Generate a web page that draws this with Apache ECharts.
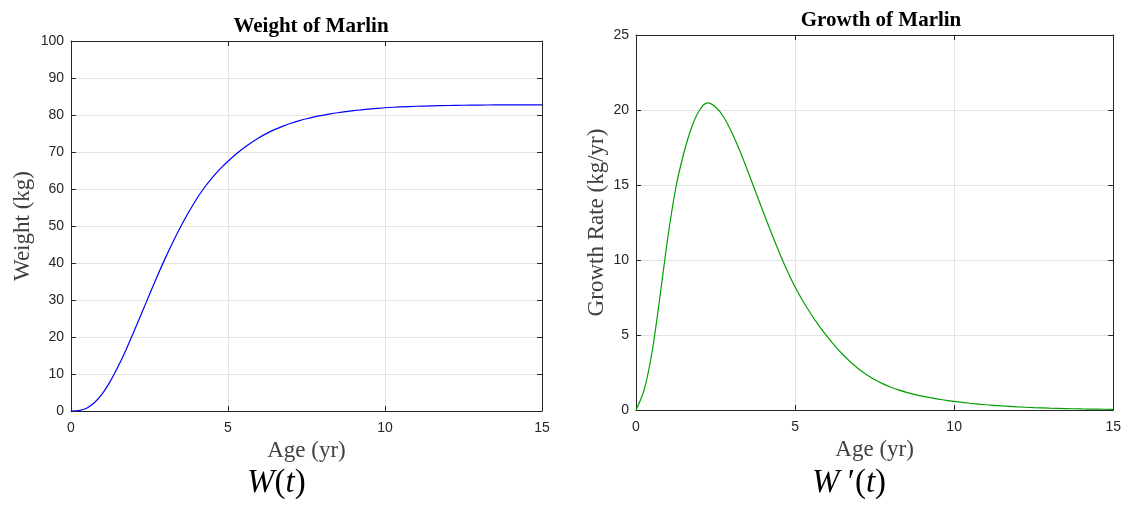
<!DOCTYPE html>
<html>
<head>
<meta charset="utf-8">
<script src="https://cdn.jsdelivr.net/npm/echarts@6/dist/echarts.min.js"></script>
<style>
html,body{margin:0;padding:0;background:#fff;}
#c{width:1124px;height:506px;}
</style>
</head>
<body>
<div id="c"></div>
<script>
// Age samples (yr), shared by both panels
const age = [0, 0.25, 0.5, 0.75, 1.0, 1.25, 1.5, 1.75, 2.0, 2.25, 2.5, 2.75, 3.0, 3.25, 3.5, 3.75, 4.0, 4.25, 4.5, 4.75,
             5.0, 5.25, 5.5, 5.75, 6.0, 6.25, 6.5, 6.75, 7.0, 7.25, 7.5, 7.75, 8.0, 8.25, 8.5, 8.75, 9.0, 9.25, 9.5, 9.75,
             10, 10.5, 11, 11.5, 12, 12.5, 13, 13.5, 14, 14.5, 15];
// Weight of Marlin W(t), kg
const weight = [0, 0.12, 0.75, 2.3, 4.7, 8.0, 12.0, 16.5, 21.4, 26.4, 31.5, 36.5, 41.25, 45.75, 49.95, 53.8, 57.3, 60.4, 63.1, 65.45,
                67.5, 69.4, 71.1, 72.6, 73.94, 75.1, 76.12, 77.0, 77.76, 78.42, 78.99, 79.48, 79.9, 80.28, 80.61, 80.9, 81.16, 81.39, 81.6, 81.79,
                81.96, 82.2, 82.36, 82.48, 82.57, 82.63, 82.68, 82.71, 82.73, 82.745, 82.75];
// Growth of Marlin W'(t), kg/yr
const growth = [0, 1.3, 3.8, 7.5, 11.5, 14.8, 17.1, 18.85, 20.0, 20.47, 20.2, 19.55, 18.55, 17.35, 16.0, 14.6, 13.2, 11.83, 10.52, 9.3,
                8.2, 7.25, 6.4, 5.62, 4.92, 4.28, 3.7, 3.18, 2.73, 2.35, 2.03, 1.76, 1.53, 1.34, 1.18, 1.04, 0.92, 0.82, 0.73, 0.64,
                0.57, 0.45, 0.35, 0.27, 0.21, 0.16, 0.12, 0.095, 0.07, 0.055, 0.04];

const titles = ['Weight of Marlin', 'Growth of Marlin'];
const xNames = ['Age (yr)', 'Age (yr)'];
const yNames = ['Weight (kg)', 'Growth Rate (kg/yr)'];

const axisColor = '#262626';
const gridColor = '#e3e3e3';
const labelFont = {color: '#262626', fontSize: 14, fontFamily: 'Liberation Sans, Arial, sans-serif'};
const nameFont = {color: '#404040', fontSize: 23, fontFamily: 'Liberation Serif, Times New Roman, serif'};

function mainX(gi, name) {
  return {
    type: 'value', gridIndex: gi, min: 0, max: 15, interval: 5, position: 'bottom',
    name: name, nameLocation: 'middle', nameGap: 27, nameTextStyle: nameFont,
    axisLine: {show: true, onZero: false, lineStyle: {color: axisColor, width: 1}},
    axisTick: {show: true, inside: true, length: 5, lineStyle: {color: axisColor}},
    axisLabel: Object.assign({margin: 10}, labelFont),
    splitLine: {show: true, lineStyle: {color: gridColor, width: 1}}
  };
}
function topX(gi) {
  return {
    type: 'value', gridIndex: gi, min: 0, max: 15, interval: 5, position: 'top',
    axisLine: {show: true, onZero: false, lineStyle: {color: axisColor, width: 1}},
    axisTick: {show: true, inside: true, length: 5, lineStyle: {color: axisColor}},
    axisLabel: {show: false}, splitLine: {show: false}
  };
}
function mainY(gi, max, interval, name, gap) {
  return {
    type: 'value', gridIndex: gi, min: 0, max: max, interval: interval, position: 'left',
    name: name, nameLocation: 'middle', nameGap: gap, nameTextStyle: nameFont,
    axisLine: {show: true, onZero: false, lineStyle: {color: axisColor, width: 1}},
    axisTick: {show: true, inside: true, length: 5, lineStyle: {color: axisColor}},
    axisLabel: Object.assign({margin: 7}, labelFont),
    splitLine: {show: true, lineStyle: {color: gridColor, width: 1}}
  };
}
function rightY(gi, max, interval) {
  return {
    type: 'value', gridIndex: gi, min: 0, max: max, interval: interval, position: 'right',
    axisLine: {show: true, onZero: false, lineStyle: {color: axisColor, width: 1}},
    axisTick: {show: true, inside: true, length: 5, lineStyle: {color: axisColor}},
    axisLabel: {show: false}, splitLine: {show: false}
  };
}

const italic = {fontFamily: 'Liberation Serif, Times New Roman, serif', fontStyle: 'italic', fontSize: 33, color: '#1a1a1a'};
const upright = {fontFamily: 'Liberation Serif, Times New Roman, serif', fontStyle: 'normal', fontSize: 33, color: '#1a1a1a'};

const chart = echarts.init(document.getElementById('c'), null, {renderer: 'canvas'});
chart.setOption({
  animation: false,
  backgroundColor: '#ffffff',
  title: [
    {text: titles[0], left: 306, top: 11, textAlign: 'center',
     textStyle: {fontFamily: 'Liberation Serif, Times New Roman, serif', fontWeight: 'bold', fontSize: 21, color: '#000'}},
    {text: titles[1], left: 876, top: 5, textAlign: 'center',
     textStyle: {fontFamily: 'Liberation Serif, Times New Roman, serif', fontWeight: 'bold', fontSize: 21, color: '#000'}}
  ],
  grid: [
    {left: 71, top: 41, width: 471, height: 370, show: false},
    {left: 636, top: 35, width: 478, height: 375, show: false}
  ],
  xAxis: [mainX(0, xNames[0]), topX(0), mainX(1, xNames[1]), topX(1)],
  yAxis: [mainY(0, 100, 10, yNames[0], 37), rightY(0, 100, 10), mainY(1, 25, 5, yNames[1], 28), rightY(1, 25, 5)],
  series: [
    {type: 'line', xAxisIndex: 0, yAxisIndex: 0, data: age.map((t, i) => [t, weight[i]]),
     showSymbol: false, smooth: 0.3, lineStyle: {color: '#0000ff', width: 1.2}, silent: true},
    {type: 'line', xAxisIndex: 2, yAxisIndex: 2, data: age.map((t, i) => [t, growth[i]]),
     showSymbol: false, smooth: 0.3, lineStyle: {color: '#00a000', width: 1.2}, silent: true}
  ],
  graphic: [
    {type: 'text', left: 247, top: 467, style: {
      text: '{i|W}{n|(}{i|t}{n|)}', rich: {i: italic, n: upright}}},
    {type: 'text', left: 812, top: 467, style: {
      text: '{i|W}{n| \u2032(}{i|t}{n|)}', rich: {i: italic, n: upright}}}
  ]
});
</script>
</body>
</html>
